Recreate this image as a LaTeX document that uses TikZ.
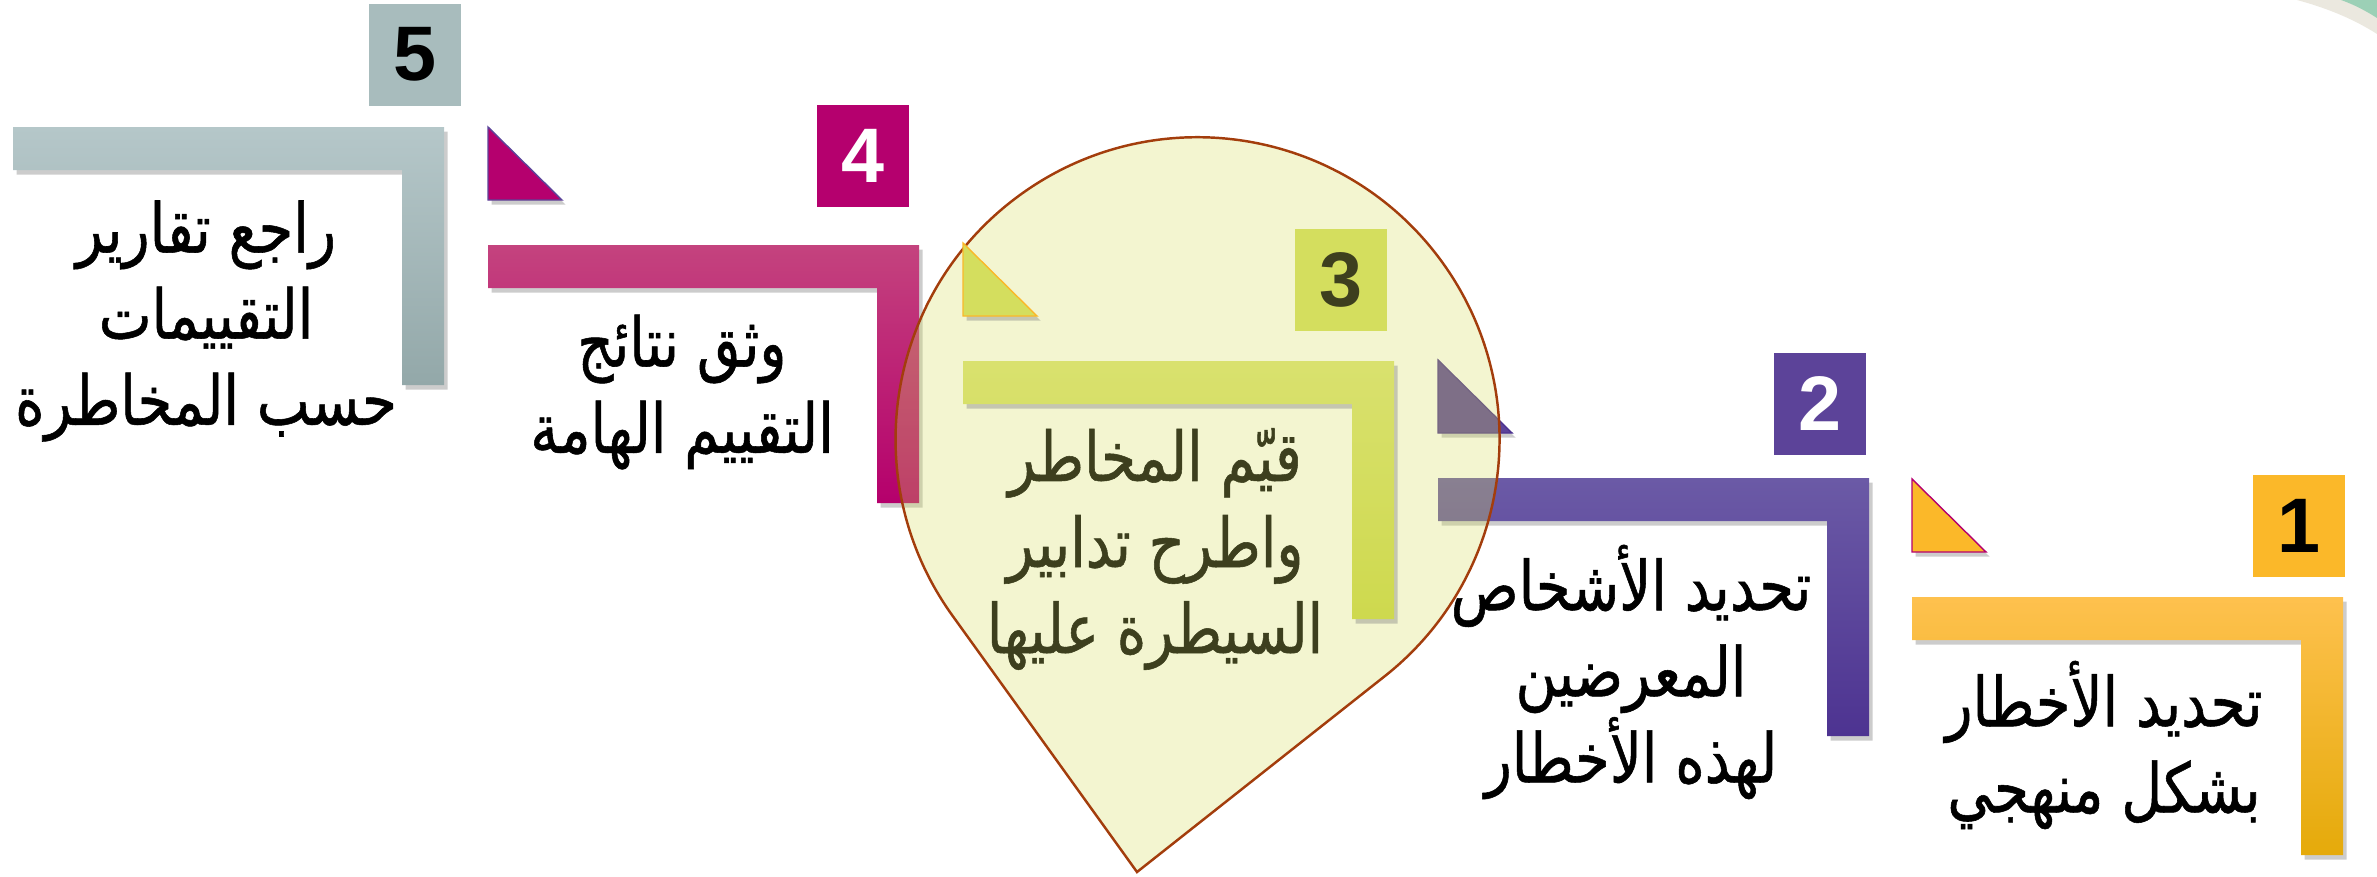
\documentclass[tikz,border=0pt]{standalone}
\usepackage{fontspec}
\newfontfamily\arabicfont[Script=Arabic,FakeStretch=0.82,FakeBold=0.8]{DejaVu Sans}
\newfontfamily\numfont{Liberation Sans}
\TeXXeTstate=1
\usepackage{tikz}
\usetikzlibrary{shadows}

\definecolor{grey5top}{HTML}{B5C7C9}
\definecolor{grey5bot}{HTML}{93A8A9}
\definecolor{grey5box}{HTML}{A8BCBD}
\definecolor{mag4top}{HTML}{C4437E}
\definecolor{mag4bot}{HTML}{B5006C}
\definecolor{mag4box}{HTML}{B5006E}
\definecolor{ylw3top}{HTML}{D9E16E}
\definecolor{ylw3bot}{HTML}{CED94E}
\definecolor{ylw3box}{HTML}{D4DE5E}
\definecolor{pur2top}{HTML}{6B5AA6}
\definecolor{pur2bot}{HTML}{4D3391}
\definecolor{pur2box}{HTML}{5C4399}
\definecolor{org1top}{HTML}{FEC14E}
\definecolor{org1bot}{HTML}{E5AA0A}
\definecolor{org1box}{HTML}{FBB829}
\definecolor{dropline}{HTML}{A33D0C}
\definecolor{olivetext}{HTML}{3D3F1E}
\definecolor{beigeband}{HTML}{EBE8DF}
\definecolor{greenband}{HTML}{9CD0B6}

\begin{document}
\begin{tikzpicture}
	[x=0.1mm,y=-0.1mm,
	barshadow/.style={drop shadow={shadow xshift=.35mm,shadow yshift=-.45mm,opacity=.4}},
	numbox/.style={rectangle,inner sep=0pt,minimum width=9.2mm,minimum height=10.2mm,font=\numfont\bfseries\fontsize{22}{22}\selectfont},
	steptext/.style={align=center,inner sep=0pt,font=\arabicfont\fontsize{19.5}{24.5}\selectfont},
	teardrop/.style={fill=ylw3box,fill opacity=.29,draw=dropline,line width=.7pt}]
	\newcommand{\stepbar}[4]{\path[barshadow,top color=#3,bottom color=#4] (#1,#2) -- ++(431,0) -- ++(0,258) -- ++(-42,0) -- ++(0,-215) -- ++(-389,0) -- cycle;}
	\newcommand{\steptri}[4]{\path[barshadow,fill=#3,draw=#4,line width=.4pt] (#1,#2-118) -- (#1,#2-45) -- (#1+74,#2-45) -- cycle;}
	\useasboundingbox (0,0) rectangle (2377,876);
	% corner of the slide background
	\fill[beigeband] (2297,0) .. controls (2330,9) and (2355,20) .. (2377,34) -- (2377,0) -- cycle;
	\fill[greenband] (2341,0) .. controls (2355,5) and (2366,11) .. (2377,18) -- (2377,0) -- cycle;
	% step 5
	\stepbar{13}{127}{grey5top}{grey5bot}
	\node[numbox,fill=grey5box] (num5) at (415,54.5) {5};
	\node[steptext] (txt5) at (206,321) {\beginR راجع تقارير\endR\\\beginR التقييمات\endR\\\beginR حسب المخاطرة\endR};
	% step 4
	\steptri{488}{245}{mag4box}{pur2box}
	\stepbar{488}{245}{mag4top}{mag4bot}
	\node[numbox,fill=mag4box,text=white] (num4) at (862.5,155.5) {4};
	\node[steptext] (txt4) at (682,392) {\beginR وثق نتائج\endR\\\beginR التقييم الهامة\endR};
	% step 2
	\steptri{1438}{478}{pur2box}{pur2bot}
	\stepbar{1438}{478}{pur2top}{pur2bot}
	\node[numbox,fill=pur2box,text=white] (num2) at (1819.5,403.5) {2};
	\node[steptext] (txt2) at (1631,672) {\beginR تحديد الأشخاص\endR\\\beginR المعرضين\endR\\\beginR لهذه الأخطار\endR};
	% step 1
	\steptri{1912}{597}{org1box}{mag4box}
	\stepbar{1912}{597}{org1top}{org1bot}
	\node[numbox,fill=org1box] (num1) at (2298.5,526) {1};
	\node[steptext] (txt1) at (2104,745) {\beginR تحديد الأخطار\endR\\\beginR بشكل منهجي\endR};
	% highlight under step 3
	\draw[teardrop] (1137,872) -- (952,615) arc[start angle=144.4,end angle=411.7,radius=302] -- cycle;
	% step 3
	\steptri{963}{361}{ylw3box}{org1box}
	\stepbar{963}{361}{ylw3top}{ylw3bot}
	\node[numbox,fill=ylw3box,text=olivetext] (num3) at (1340.5,279.5) {3};
	\node[steptext,text=olivetext] (txt3) at (1155,549) {\beginR قيّم المخاطر\endR\\\beginR واطرح تدابير\endR\\\beginR السيطرة عليها\endR};
\end{tikzpicture}
\end{document}
